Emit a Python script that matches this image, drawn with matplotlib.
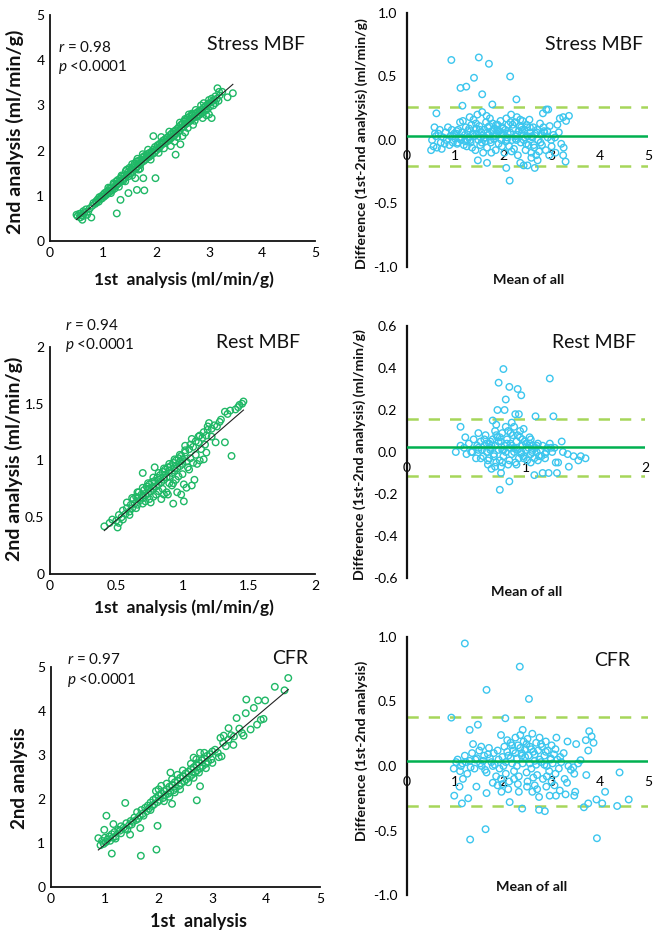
import numpy as np
import matplotlib
matplotlib.use("Agg")
import matplotlib.pyplot as plt

plt.rcParams['font.family'] = ['Lato', 'DejaVu Sans']
plt.rcParams['mathtext.fontset'] = 'custom'
plt.rcParams['mathtext.it'] = 'Lato:italic'
plt.rcParams['mathtext.rm'] = 'Lato'

# ---------------- Stress MBF: 1st vs 2nd analysis ----------------
stress_first = [
    0.50, 0.52, 0.55, 0.57, 0.58, 0.60, 0.62, 0.63, 0.65, 0.68,
    0.70, 0.72, 0.61, 0.78, 0.75, 0.80, 0.82, 0.85, 0.87, 0.88,
    0.90, 0.92, 0.93, 0.95, 0.97, 0.98, 1.00, 1.02, 1.03, 1.05,
    1.07, 1.08, 1.10, 1.12, 1.13, 1.15, 1.17, 1.18, 1.20, 1.22,
    1.24, 1.25, 1.27, 1.28, 1.30, 1.32, 1.33, 1.35, 1.37, 1.38,
    1.40, 1.42, 1.43, 1.45, 1.47, 1.48, 1.50, 1.52, 1.53, 1.55,
    1.57, 1.58, 1.60, 1.62, 1.63, 1.65, 1.67, 1.68, 1.70, 1.72,
    1.73, 1.75, 1.77, 1.78, 1.80, 1.82, 1.83, 1.85, 1.87, 1.88,
    1.90, 1.92, 1.93, 1.95, 1.97, 1.98, 2.00, 2.02, 2.03, 2.05,
    2.07, 2.08, 2.10, 2.12, 2.13, 2.15, 2.17, 2.18, 2.20, 2.22,
    2.23, 2.25, 2.27, 2.28, 2.30, 2.32, 2.33, 2.35, 2.37, 2.38,
    2.40, 2.42, 2.43, 2.45, 2.47, 2.48, 2.50, 2.52, 2.53, 2.55,
    2.57, 2.58, 2.60, 2.62, 2.63, 2.65, 2.67, 2.68, 2.70, 2.72,
    2.73, 2.75, 2.77, 2.78, 2.80, 2.82, 2.83, 2.85, 2.87, 2.88,
    2.90, 2.92, 2.93, 2.95, 2.97, 2.98, 3.00, 3.02, 3.05, 3.08,
    3.10, 3.12, 3.15, 3.18, 3.20, 3.25, 3.16, 3.19, 3.45, 3.35,
    1.26, 1.33, 1.48, 1.64, 1.78, 1.61, 1.76, 1.67, 1.99, 2.37,
    2.46, 1.95, 2.28, 2.35, 2.50, 2.55, 2.70, 3.05, 2.95, 3.00,
    1.10, 1.20, 1.35, 1.45, 1.55, 1.65, 1.75, 1.85, 2.10, 2.25,
    2.45, 2.55, 2.62, 2.68, 2.75, 2.85, 2.90, 3.00, 3.05, 3.12,
    1.15, 1.30, 1.42, 1.55, 1.70, 1.90, 2.05, 2.15, 2.40, 2.60,
]
stress_second = [
    0.58, 0.55, 0.60, 0.52, 0.61, 0.57, 0.55, 0.66, 0.62, 0.70,
    0.58, 0.65, 0.47, 0.52, 0.72, 0.78, 0.84, 0.82, 0.88, 0.85,
    0.92, 0.87, 0.97, 0.93, 0.99, 0.94, 1.02, 0.98, 1.06, 1.01,
    1.09, 1.04, 1.12, 1.08, 1.17, 1.11, 1.19, 1.13, 1.25, 1.16,
    1.22, 1.32, 1.25, 1.35, 1.28, 1.38, 1.31, 1.42, 1.36, 1.33,
    1.45, 1.40, 1.55, 1.47, 1.52, 1.43, 1.62, 1.50, 1.58, 1.63,
    1.55, 1.66, 1.72, 1.60, 1.76, 1.65, 1.70, 1.78, 1.68, 1.80,
    1.74, 1.85, 1.77, 1.88, 1.80, 1.90, 1.84, 1.93, 1.86, 1.95,
    1.89, 1.98, 1.92, 2.02, 1.95, 2.08, 2.00, 2.06, 2.12, 2.04,
    2.15, 2.09, 2.18, 2.14, 2.22, 2.16, 2.25, 2.19, 2.28, 2.21,
    2.30, 2.24, 2.35, 2.27, 2.38, 2.31, 2.42, 2.34, 2.45, 2.38,
    2.48, 2.41, 2.52, 2.45, 2.57, 2.50, 2.60, 2.53, 2.65, 2.58,
    2.68, 2.60, 2.72, 2.64, 2.75, 2.66, 2.78, 2.70, 2.80, 2.73,
    2.66, 2.82, 2.75, 2.85, 2.78, 2.88, 2.80, 2.90, 2.83, 2.72,
    2.95, 2.88, 2.98, 2.90, 3.02, 2.93, 3.05, 2.98, 3.08, 3.00,
    3.12, 3.05, 3.15, 3.10, 3.22, 3.30, 3.38, 3.30, 3.27, 3.18,
    0.61, 0.91, 1.06, 1.13, 1.12, 1.39, 1.39, 1.58, 1.39, 1.91,
    2.14, 2.32, 2.10, 2.20, 2.32, 2.40, 2.57, 2.72, 2.78, 2.80,
    1.18, 1.28, 1.45, 1.58, 1.70, 1.82, 1.92, 2.02, 2.30, 2.42,
    2.62, 2.70, 2.80, 2.82, 2.90, 3.00, 3.05, 3.12, 3.15, 3.20,
    1.06, 1.20, 1.32, 1.45, 1.60, 1.80, 1.95, 2.05, 2.30, 2.50,
]

# ---------------- Stress MBF: Bland-Altman ----------------
stress_mean = [
    0.92, 1.49, 1.70, 1.11, 1.23, 1.39, 2.14, 1.56, 1.77, 1.15,
    2.27, 2.13, 0.61, 2.93, 3.36, 3.17, 3.24, 2.82, 2.89, 2.06,
    2.42, 2.65, 3.29, 3.24, 1.47, 1.66, 2.50, 2.58, 2.71, 2.35,
    0.50, 0.52, 0.55, 0.57, 0.60, 0.62, 0.65, 0.68, 0.70, 0.72,
    0.75, 0.78, 0.80, 0.82, 0.85, 0.88, 0.90, 0.93, 0.95, 0.98,
    1.00, 1.02, 1.04, 1.06, 1.08, 1.10, 1.12, 1.14, 1.16, 1.18,
    1.20, 1.22, 1.24, 1.26, 1.28, 1.30, 1.32, 1.34, 1.36, 1.38,
    1.40, 1.42, 1.44, 1.46, 1.48, 1.50, 1.52, 1.54, 1.56, 1.58,
    1.60, 1.62, 1.64, 1.66, 1.68, 1.70, 1.72, 1.74, 1.76, 1.78,
    1.80, 1.82, 1.84, 1.86, 1.88, 1.90, 1.92, 1.94, 1.96, 1.98,
    2.00, 2.02, 2.04, 2.06, 2.08, 2.10, 2.12, 2.14, 2.16, 2.18,
    2.20, 2.22, 2.24, 2.26, 2.28, 2.30, 2.32, 2.34, 2.36, 2.38,
    2.40, 2.42, 2.44, 2.46, 2.48, 2.50, 2.52, 2.54, 2.56, 2.58,
    2.60, 2.62, 2.64, 2.66, 2.68, 2.70, 2.72, 2.74, 2.76, 2.78,
    2.80, 2.84, 2.88, 2.92, 2.96, 3.00, 3.04, 3.08, 3.12, 3.20,
    1.31, 1.45, 1.53, 1.63, 1.73, 1.83, 1.95, 2.05, 2.25, 2.45,
    1.35, 1.55, 1.75, 1.87, 1.97, 2.07, 2.17, 2.27, 2.37, 2.47,
    1.05, 1.25, 1.65, 1.85, 2.15, 2.35, 2.55, 2.85, 2.95, 3.15,
    0.95, 1.03, 1.13, 1.21, 1.29, 1.37, 1.43, 1.51, 1.59, 1.67,
    1.71, 1.79, 1.89, 1.99, 2.09, 2.19, 2.29, 2.39, 2.49, 2.59,
    2.63, 2.69, 2.77, 2.83, 2.91, 2.99, 3.07, 3.25, 3.30, 0.58,
]
stress_diff = [
    0.63, 0.65, 0.60, 0.41, 0.42, 0.49, 0.50, 0.36, 0.28, 0.27,
    0.32, -0.32, 0.21, 0.24, 0.19, 0.17, 0.18, 0.21, 0.24, -0.22,
    -0.20, -0.22, -0.17, -0.12, -0.16, -0.18, -0.20, -0.14, -0.16, -0.18,
    -0.08, 0.00, -0.05, 0.10, 0.03, -0.06, 0.05, 0.08, -0.02, -0.07,
    0.02, -0.03, 0.06, 0.00, 0.10, -0.04, 0.03, 0.08, -0.02, 0.05,
    0.01, 0.05, -0.03, 0.08, 0.02, 0.14, 0.00, 0.06, 0.15, -0.04,
    0.04, 0.10, -0.05, 0.07, 0.02, 0.18, -0.02, 0.12, 0.05, 0.16,
    0.03, -0.08, 0.09, 0.20, 0.00, 0.11, -0.04, 0.06, 0.22, -0.10,
    0.08, 0.02, 0.14, -0.06, 0.10, 0.04, 0.17, -0.02, 0.07, 0.13,
    0.01, 0.09, -0.08, 0.05, 0.12, -0.03, 0.07, 0.15, 0.00, 0.10,
    0.04, -0.10, 0.08, 0.17, 0.02, 0.12, -0.05, 0.06, 0.20, 0.00,
    0.09, -0.07, 0.14, 0.03, 0.18, -0.12, 0.07, 0.11, -0.02, 0.05,
    0.15, 0.00, 0.08, -0.08, 0.12, 0.03, -0.04, 0.16, 0.06, -0.10,
    0.02, 0.10, -0.06, 0.05, -0.12, 0.08, 0.00, -0.09, 0.13, 0.04,
    -0.04, 0.07, -0.08, 0.02, 0.11, -0.05, 0.04, -0.10, 0.12, -0.03,
    0.00, 0.05, 0.02, -0.01, 0.00, 0.03, 0.06, -0.01, 0.01, 0.02,
    -0.06, -0.02, -0.10, 0.08, -0.05, 0.00, -0.09, 0.00, 0.10, -0.03,
    -0.02, 0.00, 0.19, 0.12, 0.14, 0.16, 0.10, 0.06, -0.12, 0.06,
    0.03, 0.07, 0.02, -0.01, 0.09, 0.04, 0.13, 0.08, 0.01, 0.06,
    0.11, 0.03, 0.07, 0.09, 0.05, 0.12, 0.04, 0.08, 0.10, 0.03,
    -0.04, 0.06, -0.02, 0.10, 0.07, 0.00, 0.02, -0.06, 0.15, 0.05,
]
stress_bias = 0.032
stress_loa = [0.263, -0.203]

# ---------------- Rest MBF: 1st vs 2nd analysis ----------------
rest_first = [
    0.41, 0.51, 0.79, 0.70, 0.93, 1.01, 0.96, 1.07, 1.09, 1.16,
    1.32, 1.37, 1.46, 1.42, 1.43, 1.40, 1.34, 1.32, 1.29, 1.24,
    1.20, 1.19, 1.22, 1.12, 1.07, 1.02, 1.22, 1.26, 1.11, 1.01,
    0.45, 0.47, 0.50, 0.52, 0.54, 0.55, 0.57, 0.58, 0.60, 0.61,
    0.62, 0.63, 0.64, 0.65, 0.66, 0.67, 0.68, 0.69, 0.70, 0.71,
    0.72, 0.73, 0.74, 0.75, 0.76, 0.77, 0.78, 0.79, 0.80, 0.81,
    0.82, 0.83, 0.84, 0.85, 0.86, 0.87, 0.88, 0.89, 0.90, 0.91,
    0.92, 0.93, 0.94, 0.95, 0.96, 0.97, 0.98, 0.99, 1.00, 1.02,
    1.03, 1.05, 1.06, 1.08, 1.10, 1.12, 1.14, 1.15, 1.17, 1.18,
    0.70, 0.75, 0.80, 0.85, 0.88, 0.90, 0.95, 1.00, 1.05, 0.72,
    0.78, 0.82, 0.86, 0.92, 0.97, 1.04, 1.08, 0.65, 0.60, 0.55,
    0.58, 0.62, 0.66, 0.70, 0.74, 0.78, 0.82, 0.86, 0.90, 0.94,
    0.98, 1.02, 1.06, 1.10, 1.13, 1.16, 1.19, 1.28, 1.36, 1.45,
    0.66, 0.70, 0.74, 0.78, 0.82, 0.86, 0.90, 0.94, 0.98, 1.00,
    0.84, 0.89, 0.99, 1.03, 0.76, 0.93, 1.13, 1.18, 1.25, 0.52,
]
rest_second = [
    0.42, 0.41, 0.94, 0.89, 0.62, 0.64, 0.72, 0.78, 0.83, 1.01,
    1.16, 1.04, 1.52, 1.47, 1.49, 1.45, 1.41, 1.43, 1.36, 1.31,
    1.33, 1.30, 1.21, 1.21, 1.19, 1.13, 1.28, 1.30, 0.97, 0.79,
    0.45, 0.48, 0.47, 0.52, 0.50, 0.56, 0.53, 0.58, 0.55, 0.61,
    0.58, 0.66, 0.62, 0.68, 0.61, 0.72, 0.65, 0.70, 0.67, 0.74,
    0.69, 0.77, 0.71, 0.79, 0.73, 0.81, 0.75, 0.82, 0.77, 0.85,
    0.79, 0.87, 0.81, 0.90, 0.83, 0.92, 0.85, 0.94, 0.86, 0.95,
    0.89, 0.98, 0.91, 1.00, 0.93, 1.02, 0.95, 1.04, 0.97, 1.07,
    0.99, 1.10, 1.02, 1.12, 1.05, 1.16, 1.10, 1.20, 1.14, 1.22,
    0.62, 0.66, 0.70, 0.75, 0.72, 0.80, 0.83, 0.88, 0.92, 0.64,
    0.68, 0.73, 0.70, 0.78, 0.86, 0.94, 0.98, 0.58, 0.52, 0.48,
    0.63, 0.67, 0.72, 0.76, 0.80, 0.85, 0.89, 0.93, 0.97, 1.01,
    1.05, 1.09, 1.14, 1.17, 1.22, 1.25, 1.27, 1.34, 1.44, 1.50,
    0.67, 0.69, 0.75, 0.77, 0.83, 0.85, 0.91, 0.93, 0.99, 1.01,
    0.66, 0.70, 0.70, 0.76, 0.63, 0.80, 1.00, 1.07, 1.16, 0.45,
]

# ---------------- Rest MBF: Bland-Altman ----------------
rest_mean = [
    0.81, 0.77, 0.86, 0.93, 0.96, 0.83, 1.20, 0.76, 0.82, 0.91,
    0.94, 1.08, 1.23, 0.45, 0.78, 0.86, 0.79, 1.07, 1.14, 1.19,
    1.26, 1.25, 1.27, 1.36, 1.50, 1.46, 1.44, 1.40, 1.31, 1.35,
    1.30, 0.41, 0.45, 0.60, 0.49, 0.72, 0.75, 0.88, 0.90, 0.98,
    0.48, 0.50, 0.52, 0.54, 0.56, 0.58, 0.60, 0.62, 0.64, 0.66,
    0.67, 0.68, 0.69, 0.70, 0.71, 0.72, 0.73, 0.74, 0.75, 0.76,
    0.77, 0.78, 0.79, 0.80, 0.81, 0.82, 0.83, 0.84, 0.85, 0.86,
    0.87, 0.88, 0.89, 0.90, 0.91, 0.92, 0.93, 0.94, 0.95, 0.96,
    0.97, 0.98, 0.99, 1.00, 1.01, 1.02, 1.03, 1.04, 1.05, 1.06,
    1.07, 1.08, 1.09, 1.10, 1.11, 1.12, 1.14, 1.16, 1.18, 1.20,
    1.22, 1.24, 1.04, 0.95, 0.85, 0.75, 0.65, 0.70, 0.80, 0.90,
    0.62, 0.68, 0.74, 0.80, 0.86, 0.92, 0.98, 1.04, 1.10, 1.16,
    0.70, 0.74, 0.78, 0.83, 0.87, 0.93, 0.97, 1.03, 0.65, 0.60,
    0.55, 0.59, 0.63, 0.67, 0.71, 0.73, 0.77, 0.81, 0.84, 0.88,
    0.92, 0.96, 1.00, 1.05, 1.09, 1.13, 1.17, 1.21, 0.69, 0.79,
]
rest_diff = [
    0.395, 0.33, 0.31, 0.30, 0.27, 0.25, 0.35, 0.20, 0.20, 0.18,
    0.18, 0.17, 0.17, 0.12, -0.18, -0.14, -0.10, -0.11, -0.10, -0.10,
    -0.10, -0.05, -0.05, -0.07, -0.03, -0.02, -0.04, -0.02, 0.00, -0.01,
    0.05, 0.00, 0.03, 0.09, 0.07, 0.15, 0.13, 0.14, 0.12, 0.11,
    0.02, -0.01, 0.04, 0.00, 0.06, -0.03, 0.02, 0.05, -0.02, 0.08,
    0.00, -0.06, 0.04, 0.02, -0.08, 0.06, -0.01, 0.03, -0.05, 0.07,
    0.01, -0.04, 0.05, 0.09, -0.02, 0.03, 0.00, 0.06, -0.06, 0.02,
    0.04, -0.01, 0.08, 0.02, -0.05, 0.05, 0.01, -0.03, 0.07, 0.00,
    0.03, -0.02, 0.05, 0.01, -0.04, 0.02, 0.04, -0.01, 0.00, 0.03,
    -0.03, 0.02, 0.00, 0.04, -0.02, 0.01, 0.03, -0.01, 0.02, 0.04,
    0.00, 0.02, 0.06, 0.10, 0.10, 0.08, 0.03, 0.01, 0.01, 0.00,
    -0.03, -0.04, -0.07, -0.05, -0.04, -0.06, -0.03, -0.05, -0.04, -0.03,
    0.05, 0.10, 0.07, 0.12, 0.09, 0.08, 0.06, 0.07, 0.06, 0.01,
    0.00, 0.03, 0.01, 0.04, 0.03, -0.02, 0.05, 0.01, 0.04, 0.03,
    0.02, -0.01, 0.04, 0.01, 0.03, -0.02, 0.00, 0.02, -0.03, -0.07,
]
rest_bias = 0.026
rest_loa = [0.158, -0.112]

# ---------------- CFR: 1st vs 2nd analysis ----------------
cfr_first = [
    4.41, 4.16, 4.34, 3.63, 3.85, 3.98, 3.77, 3.62, 3.45, 3.95,
    3.83, 3.71, 3.58, 3.30, 3.39, 3.17, 3.15, 3.21, 2.77, 2.71,
    2.25, 1.98, 1.96, 1.67, 1.13, 1.38, 1.03, 0.88, 0.99, 1.16,
    1.47, 1.66, 2.22, 2.65, 2.77, 3.90, 3.55, 3.50, 3.35, 3.25,
    0.92, 0.95, 0.98, 1.00, 1.02, 1.05, 1.08, 1.10, 1.13, 1.15,
    1.18, 1.20, 1.25, 1.28, 1.30, 1.35, 1.38, 1.40, 1.45, 1.48,
    1.50, 1.55, 1.58, 1.60, 1.65, 1.68, 1.70, 1.75, 1.78, 1.80,
    1.82, 1.85, 1.88, 1.90, 1.92, 1.95, 1.98, 2.00, 2.02, 2.05,
    2.08, 2.10, 2.12, 2.15, 2.18, 2.20, 2.22, 2.25, 2.28, 2.30,
    2.32, 2.35, 2.38, 2.40, 2.42, 2.45, 2.48, 2.50, 2.52, 2.55,
    2.58, 2.60, 2.62, 2.65, 2.68, 2.70, 2.72, 2.75, 2.78, 2.80,
    2.82, 2.85, 2.88, 2.90, 2.92, 2.95, 2.98, 3.00, 3.05, 3.10,
    1.95, 2.00, 2.05, 2.15, 2.25, 2.35, 2.45, 2.60, 2.70, 2.85,
    2.10, 2.20, 2.30, 2.40, 2.55, 2.65, 2.75, 2.88, 3.00, 3.12,
    1.20, 1.30, 1.42, 1.52, 1.62, 1.72, 1.85, 3.20, 3.30, 3.40,
]
cfr_second = [
    4.75, 4.55, 4.47, 4.26, 4.24, 4.24, 4.07, 3.95, 3.84, 3.82,
    3.69, 3.58, 3.44, 3.61, 3.23, 2.97, 3.39, 3.44, 2.29, 1.97,
    1.89, 1.39, 0.85, 0.71, 0.76, 1.91, 1.62, 1.11, 1.30, 1.43,
    1.19, 1.34, 2.60, 2.94, 3.05, 3.80, 3.50, 3.60, 3.45, 3.20,
    0.95, 1.05, 0.98, 1.12, 1.02, 1.08, 1.15, 1.05, 1.20, 1.12,
    1.25, 1.15, 1.30, 1.28, 1.22, 1.35, 1.32, 1.45, 1.40, 1.50,
    1.42, 1.58, 1.52, 1.70, 1.62, 1.75, 1.66, 1.80, 1.72, 1.85,
    1.78, 1.92, 1.84, 1.98, 1.88, 2.02, 1.93, 2.08, 1.98, 2.12,
    2.02, 2.18, 2.08, 2.22, 2.12, 2.28, 2.16, 2.32, 2.20, 2.38,
    2.25, 2.42, 2.30, 2.48, 2.35, 2.52, 2.40, 2.58, 2.45, 2.62,
    2.50, 2.68, 2.55, 2.72, 2.60, 2.78, 2.65, 2.82, 2.70, 2.88,
    2.75, 2.92, 2.80, 2.98, 2.85, 3.02, 2.90, 3.08, 3.12, 3.05,
    2.18, 2.22, 2.30, 2.35, 2.45, 2.55, 2.65, 2.80, 2.90, 3.05,
    1.95, 2.05, 2.15, 2.22, 2.38, 2.48, 2.60, 2.70, 2.82, 2.95,
    1.10, 1.38, 1.30, 1.48, 1.55, 1.62, 1.75, 3.28, 3.35, 3.42,
]

# ---------------- CFR: Bland-Altman ----------------
cfr_mean = [
    1.20, 2.34, 1.65, 2.53, 0.92, 2.04, 1.31, 1.63, 3.94, 0.98,
    1.14, 1.27, 2.13, 2.39, 2.74, 2.86, 2.74, 3.67, 3.76, 3.93,
    4.05, 4.11, 4.36, 4.60, 4.41, 3.78, 3.83, 3.87, 3.71, 3.76,
    3.51, 3.33, 3.49, 3.47, 3.29, 3.17, 3.32, 3.72, 3.60, 3.47,
    3.27, 1.30, 1.47, 1.37, 1.54, 1.44, 1.65, 1.78, 1.96, 2.32,
    2.49, 2.65, 2.89, 2.96, 3.09, 3.06, 0.97, 1.02, 1.16, 1.09,
    1.05, 1.10, 1.15, 1.20, 1.25, 1.30, 1.35, 1.40, 1.45, 1.50,
    1.55, 1.60, 1.65, 1.70, 1.75, 1.80, 1.85, 1.90, 1.95, 2.00,
    2.02, 2.05, 2.08, 2.10, 2.12, 2.15, 2.18, 2.20, 2.22, 2.25,
    2.28, 2.30, 2.32, 2.35, 2.38, 2.40, 2.42, 2.45, 2.48, 2.50,
    2.52, 2.55, 2.58, 2.60, 2.62, 2.65, 2.68, 2.70, 2.72, 2.75,
    2.78, 2.80, 2.82, 2.85, 2.88, 2.90, 2.92, 2.95, 2.98, 3.00,
    3.02, 3.05, 3.08, 3.10, 3.12, 3.15, 3.20, 3.25, 3.40, 3.55,
    2.05, 2.15, 2.25, 2.35, 2.45, 2.55, 2.65, 2.75, 2.85, 1.95,
    1.12, 1.22, 1.32, 1.42, 1.52, 1.62, 1.72, 1.82, 1.92, 2.40,
    2.10, 2.30, 2.50, 2.70, 2.90, 3.00, 1.88, 2.60, 3.35, 3.45,
    1.58, 1.68, 1.78, 1.88, 1.98, 2.08, 2.18, 2.28, 2.38, 2.48,
    2.58, 2.68, 2.78, 2.88, 2.98, 3.08, 3.18, 1.98, 2.22, 2.62,
]
cfr_diff = [
    0.95, 0.77, 0.59, 0.52, 0.375, 0.37, -0.57, -0.49, -0.56, -0.23,
    -0.29, -0.25, -0.28, -0.33, -0.34, -0.35, -0.24, -0.32, -0.29, -0.26,
    -0.29, -0.20, -0.31, -0.26, -0.05, 0.27, 0.23, 0.18, 0.20, 0.12,
    0.17, 0.19, -0.20, -0.23, -0.22, -0.19, -0.13, -0.07, 0.045, -0.06,
    -0.10, 0.28, 0.32, 0.17, 0.15, -0.16, -0.21, -0.13, -0.20, -0.20,
    -0.16, -0.15, -0.16, -0.23, -0.23, -0.15, -0.02, 0.03, -0.10, -0.16,
    0.05, -0.04, 0.02, 0.08, -0.06, 0.04, 0.10, -0.02, 0.06, 0.12,
    0.00, 0.08, -0.05, 0.14, 0.03, 0.10, -0.08, 0.05, 0.24, 0.00,
    0.15, -0.06, 0.20, 0.08, -0.12, 0.18, 0.02, 0.12, -0.04, 0.22,
    0.06, 0.16, -0.08, 0.24, 0.10, 0.02, 0.19, 0.13, -0.05, 0.21,
    0.08, 0.15, -0.02, 0.25, 0.11, 0.04, 0.18, -0.07, 0.12, 0.22,
    0.03, 0.15, -0.10, 0.08, 0.19, 0.00, 0.12, -0.04, 0.06, 0.16,
    0.02, 0.09, -0.06, 0.22, 0.05, -0.02, 0.03, 0.10, -0.03, 0.02,
    0.03, 0.06, 0.10, 0.14, 0.07, 0.02, 0.09, 0.05, 0.01, -0.10,
    0.00, 0.03, -0.01, 0.05, 0.02, -0.03, 0.06, 0.01, -0.02, 0.28,
    -0.18, -0.14, -0.12, -0.18, -0.08, -0.12, -0.15, -0.20, 0.00, -0.01,
    0.04, 0.09, 0.00, 0.12, 0.07, 0.11, 0.16, 0.00, 0.08, 0.17,
    0.13, 0.01, 0.17, 0.11, 0.05, 0.13, 0.07, -0.14, -0.10, -0.09,
]
cfr_bias = 0.037
cfr_loa = [0.376, -0.308]

# ---------------- Figure ----------------
W, H = 661, 934
fig = plt.figure(figsize=(W / 100, H / 100), dpi=100)

def ax_px(left, top, right, bottom):
    return fig.add_axes([left / W, 1 - bottom / H, (right - left) / W, (bottom - top) / H])

def ftext(x, y, s, **kw):
    fig.text(x / W, 1 - y / H, s, **kw)

GREEN_PT = '#1fb866'
CYAN_PT = '#3cc6ee'
MEAN_C = '#00b050'
LOA_C = '#a6d65a'
TICK_FS = 10
MS = 22

def scatter_panel(ax, xs, ys, lim, ticks, ticklabels):
    ax.scatter(xs, ys, s=MS, facecolors='none', edgecolors=GREEN_PT, linewidths=1.0, zorder=2)
    xa = np.array(xs); ya = np.array(ys)
    k, b = np.polyfit(xa, ya, 1)
    xx = np.array([xa.min(), xa.max()])
    ax.plot(xx, k * xx + b, color='#222222', lw=0.8, zorder=3)
    ax.set_xlim(0, lim); ax.set_ylim(0, lim)
    ax.set_xticks(ticks); ax.set_yticks(ticks)
    ax.set_xticklabels(ticklabels); ax.set_yticklabels(ticklabels)
    for sp in ['top', 'right']:
        ax.spines[sp].set_visible(False)
    for sp in ['left', 'bottom']:
        ax.spines[sp].set_linewidth(1.3)
        ax.spines[sp].set_color('#111111')
    ax.tick_params(length=0, labelsize=TICK_FS, pad=4)
    ax.patch.set_alpha(0)

def ba_panel(ax, xs, ys, xlim, ylim, yticks, yticklabels, bias, loa):
    ax.scatter(xs, ys, s=MS, facecolors='none', edgecolors=CYAN_PT, linewidths=1.0, zorder=2)
    ax.axhline(bias, color=MEAN_C, lw=1.8, zorder=3)
    for v in loa:
        ax.axhline(v, color=LOA_C, lw=1.8, dashes=(4.5, 4), zorder=1)
    ax.set_xlim(0, xlim); ax.set_ylim(-ylim, ylim)
    ax.set_xticks(range(0, xlim + 1))
    ax.set_yticks(yticks); ax.set_yticklabels(yticklabels)
    for sp in ['top', 'right']:
        ax.spines[sp].set_visible(False)
    ax.spines['bottom'].set_position(('data', 0))
    ax.spines['bottom'].set_visible(False)
    ax.spines['left'].set_linewidth(1.6)
    ax.spines['left'].set_color('#111111')
    ax.tick_params(length=0, labelsize=TICK_FS)
    ax.tick_params(axis='x', pad=7)
    ax.tick_params(axis='y', pad=7)
    ax.patch.set_alpha(0)

# Panel 1
a1 = ax_px(50, 15, 315, 241)
scatter_panel(a1, stress_first, stress_second, 5, [0, 1, 2, 3, 4, 5], ['0', '1', '2', '3', '4', '5'])
# Panel 2
a2 = ax_px(407, 13, 648, 267)
ba_panel(a2, stress_mean, stress_diff, 5, 1.0, [-1, -0.5, 0, 0.5, 1.0],
         ['-1.0', '-0.5', '0.0', '0.5', '1.0'], stress_bias, stress_loa)
# Panel 3
a3 = ax_px(50, 347, 315, 574)
scatter_panel(a3, rest_first, rest_second, 2, [0, 0.5, 1, 1.5, 2], ['0', '0.5', '1', '1.5', '2'])
# Panel 4
a4 = ax_px(407, 326, 645, 578)
ba_panel(a4, rest_mean, rest_diff, 2, 0.6, [-0.6, -0.4, -0.2, 0, 0.2, 0.4, 0.6],
         ['-0.6', '-0.4', '-0.2', '0.0', '0.2', '0.4', '0.6'], rest_bias, rest_loa)
# Panel 5
a5 = ax_px(51, 667, 320, 887)
scatter_panel(a5, cfr_first, cfr_second, 5, [0, 1, 2, 3, 4, 5], ['0', '1', '2', '3', '4', '5'])
# Panel 6
a6 = ax_px(407, 637, 648, 895)
ba_panel(a6, cfr_mean, cfr_diff, 5, 1.0, [-1, -0.5, 0, 0.5, 1.0],
         ['-1.0', '-0.5', '0.0', '0.5', '1.0'], cfr_bias, cfr_loa)

# ---------------- Text ----------------
LBL = dict(fontweight='bold', color='#111111')
ftext(15, 132, '2nd analysis (ml/min/g)', rotation=90, ha='center', va='center', fontsize=14, **LBL)
ftext(184, 280, '1st  analysis (ml/min/g)', ha='center', va='center', fontsize=12.5, **LBL)
ftext(14, 459, '2nd analysis (ml/min/g)', rotation=90, ha='center', va='center', fontsize=14, **LBL)
ftext(184, 608, '1st  analysis (ml/min/g)', ha='center', va='center', fontsize=12.5, **LBL)
ftext(20, 778, '2nd analysis', rotation=90, ha='center', va='center', fontsize=13.5, **LBL)
ftext(199, 922, '1st  analysis', ha='center', va='center', fontsize=13, **LBL)

ftext(362, 144, 'Difference (1st-2nd analysis) (ml/min/g)', rotation=90, ha='center', va='center', fontsize=10.2, **LBL)
ftext(360, 455, 'Difference (1st-2nd analysis) (ml/min/g)', rotation=90, ha='center', va='center', fontsize=10.2, **LBL)
ftext(362, 751, 'Difference (1st-2nd analysis)', rotation=90, ha='center', va='center', fontsize=10.2, **LBL)
ftext(529, 280, 'Mean of all', ha='center', va='center', fontsize=10.3, **LBL)
ftext(527, 592, 'Mean of all', ha='center', va='center', fontsize=10.3, **LBL)
ftext(532, 887, 'Mean of all', ha='center', va='center', fontsize=10.3, **LBL)

TITLE = dict(fontsize=14, ha='center', va='center', color='#111111')
ftext(256, 45, 'Stress MBF', **TITLE)
ftext(594, 45, 'Stress MBF', **TITLE)
ftext(258, 343, 'Rest MBF', **TITLE)
ftext(594, 343, 'Rest MBF', **TITLE)
ftext(290, 658, 'CFR', **TITLE)
ftext(612, 660, 'CFR', **TITLE)

STAT = dict(fontsize=11, ha='left', va='center', color='#111111')
ftext(58, 47, r'$r$ = 0.98', **STAT)
ftext(58, 67, r'$p$ <0.0001', **STAT)
ftext(65, 325, r'$r$ = 0.94', **STAT)
ftext(65, 345, r'$p$ <0.0001', **STAT)
ftext(67, 660, r'$r$ = 0.97', **STAT)
ftext(67, 680, r'$p$ <0.0001', **STAT)

fig.savefig('out.png', dpi=100)
